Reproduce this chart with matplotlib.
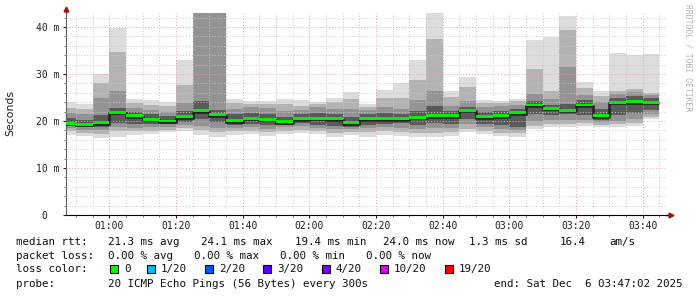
import matplotlib
matplotlib.use("Agg")
import matplotlib.pyplot as plt
from matplotlib.patches import Rectangle
from matplotlib.transforms import ScaledTranslation
import numpy as np

# %%
# smokeping style chart, 5 minute steps starting 00:45 (minutes after midnight)
step_start = 45
step = 5

# 20 pings per step, summarised as nested percentile pairs (ms)
ping_min = [17.0, 16.8, 16.4, 16.7, 17.0, 17.2, 17.6, 17.9, 17.0, 16.7, 17.0, 17.2,
            16.9, 17.2, 17.4, 17.2, 16.7, 17.0, 16.7, 17.0, 16.9, 16.7, 16.7, 16.9,
            17.6, 17.2, 16.8, 16.7, 18.3, 18.8, 18.8, 19.0, 18.7, 18.7, 19.0, 20.4]
p_lo2 = [17.8, 17.5, 17.2, 17.8, 17.8, 17.9, 18.2, 18.5, 18.0, 17.6, 17.8, 17.9,
         17.6, 17.9, 18.0, 17.9, 17.5, 17.7, 17.6, 17.8, 17.6, 17.4, 17.5, 17.6,
         18.4, 17.9, 17.5, 17.4, 19.0, 19.4, 19.4, 19.6, 19.2, 19.3, 19.6, 20.9]
p_lo3 = [18.5, 18.2, 18.1, 18.7, 18.6, 18.7, 18.8, 19.2, 19.0, 18.6, 18.6, 18.7,
         18.4, 18.7, 18.9, 18.6, 18.3, 18.3, 18.5, 18.7, 18.5, 18.3, 18.5, 18.5,
         19.3, 18.7, 18.3, 18.1, 20.0, 20.2, 20.3, 20.3, 19.7, 20.0, 20.4, 21.5]
p_lo4 = [18.9, 18.7, 18.8, 19.6, 19.4, 19.4, 19.3, 19.7, 20.4, 19.8, 19.1, 19.4,
         19.1, 19.1, 19.5, 19.2, 19.0, 18.8, 19.2, 19.4, 19.6, 19.2, 19.6, 19.4,
         20.4, 19.4, 19.1, 18.8, 21.4, 21.2, 21.4, 21.3, 20.2, 21.2, 21.8, 22.4]
median = [19.5, 19.3, 19.6, 21.9, 21.1, 20.4, 20.0, 20.9, 22.2, 21.3, 20.1, 20.6,
          20.4, 19.8, 20.5, 20.6, 20.5, 19.6, 20.5, 20.5, 20.5, 20.8, 21.1, 21.1,
          22.3, 20.9, 21.1, 21.8, 23.4, 22.7, 22.3, 23.4, 21.1, 24.0, 24.1, 24.0]
p_hi4 = [20.6, 20.3, 21.3, 22.8, 22.0, 21.4, 21.0, 22.2, 24.3, 22.4, 21.4, 21.8,
         21.6, 20.8, 21.4, 21.8, 21.6, 20.8, 21.5, 21.7, 21.5, 22.2, 23.2, 22.2,
         23.0, 22.0, 22.1, 22.6, 24.2, 23.5, 23.7, 24.4, 22.6, 24.8, 25.4, 25.0]
p_hi3 = [21.8, 21.5, 24.8, 26.4, 22.8, 22.4, 22.0, 23.8, 45.0, 45.0, 22.6, 23.0,
         22.8, 22.2, 22.4, 23.0, 22.6, 22.6, 22.4, 23.0, 22.6, 24.5, 26.5, 23.2,
         24.2, 23.0, 23.2, 23.4, 25.8, 24.6, 31.6, 25.6, 24.0, 25.8, 26.2, 25.6]
p_hi2 = [22.8, 22.6, 28.0, 34.6, 23.8, 23.5, 23.2, 27.7, 45.0, 45.0, 23.8, 23.6,
         23.6, 23.6, 23.2, 23.6, 24.0, 24.6, 23.0, 24.8, 24.8, 28.8, 37.5, 25.2,
         27.2, 23.8, 23.8, 24.2, 31.1, 26.5, 39.4, 27.0, 25.4, 26.4, 26.8, 26.0]
ping_max = [24.0, 23.6, 30.0, 39.9, 24.7, 24.5, 24.0, 33.0, 45.0, 45.0, 24.7, 24.3,
            24.3, 24.7, 24.5, 24.1, 25.0, 26.1, 23.6, 26.6, 28.2, 33.0, 45.0, 26.4,
            29.3, 24.5, 24.3, 24.7, 37.2, 37.9, 42.3, 28.4, 26.4, 34.5, 34.0, 34.3]

x_ticks = [60, 80, 100, 120, 140, 160, 180, 200, 220]
x_labels = ["01:00", "01:20", "01:40", "02:00", "02:20", "02:40", "03:00", "03:20", "03:40"]
y_ticks = [0, 10, 20, 30, 40]
y_labels = ["0", "10 m", "20 m", "30 m", "40 m"]

loss_labels = ["0", "1/20", "2/20", "3/20", "4/20", "10/20", "19/20"]
loss_colors = ["#00ff00", "#00b8ff", "#0059ff", "#5e00ff", "#7e00ff", "#dd00ff", "#ff0000"]

t0, t1 = 47.03, 227.03   # 00:47:02 .. 03:47:02

# %%
W, H = 697, 297
fig = plt.figure(figsize=(W / 100, H / 100), dpi=100)
fig.patch.set_facecolor("white")
ax = fig.add_axes([66 / W, (H - 215) / H, 600 / W, 202 / H])

n = len(median)
edges = step_start + step * np.arange(n + 1)
left = edges[:-1]

layers = [(ping_min, ping_max, "#dcdcdc"),
          (p_lo2, p_hi2, "#b3b3b3"),
          (p_lo3, p_hi3, "#939393"),
          (p_lo4, p_hi4, "#5a5a5a")]
for lo, hi, col in layers:
    lo = np.array(lo)
    hi = np.array(hi)
    ax.bar(left, hi - lo, bottom=lo, width=step, align="edge", color=col,
           linewidth=0, zorder=1)

med = np.array(median)
ax.stairs(med - 0.2, edges, baseline=None, color="#202020", lw=1.8, zorder=3)
ax.bar(left, 0.62, bottom=med - 0.3, width=step, align="edge", color="#00f000",
       linewidth=0, zorder=4)

ax.set_xlim(t0, t1)
ax.set_ylim(0, 43)

ax.set_xticks(x_ticks)
ax.set_xticklabels(x_labels)
ax.set_xticks(np.arange(50, 227, 5), minor=True)
ax.set_yticks(y_ticks)
ax.set_yticklabels(y_labels)
ax.set_yticks(np.arange(2, 43, 2), minor=True)

ax.set_axisbelow(False)
ax.grid(which="minor", color="#c8c8c8", ls=(0, (1, 2)), lw=0.7)
ax.grid(which="major", color="#e6a3a3", ls=(0, (1, 2)), lw=0.7)

mono = "DejaVu Sans Mono"
ax.tick_params(axis="both", which="major", length=2.5, width=0.8, labelsize=7,
               pad=2, colors="#202020")
ax.tick_params(axis="both", which="minor", length=1.2, width=0.6, colors="#606060")
for lbl in ax.get_xticklabels() + ax.get_yticklabels():
    lbl.set_family(mono)
# the bare "0" sits under the digit column of the other labels
zero = ax.get_yticklabels()[0]
zero.set_transform(zero.get_transform() + ScaledTranslation(-12 / 100, 0, fig.dpi_scale_trans))

for s in ["top", "right"]:
    ax.spines[s].set_visible(False)
ax.spines["left"].set_color("#606060")
ax.spines["bottom"].set_color("#000000")

# axis arrows
ax.plot([0, 0], [1, 1.02], color="#606060", lw=1, transform=ax.transAxes, clip_on=False)
ax.plot([0], [1.02], marker="^", ms=3.5, color="#a01010", transform=ax.transAxes, clip_on=False)
ax.plot([1, 1.008], [0, 0], color="#000000", lw=1, transform=ax.transAxes, clip_on=False)
ax.plot([1.008], [0], marker=">", ms=3.5, color="#a01010", transform=ax.transAxes, clip_on=False)

fig.text(10 / W, 1 - 113 / H, "Seconds", rotation=90, ha="center", va="center",
         fontsize=7.8, family="DejaVu Sans", color="#202020")
fig.text(688 / W, 1 - 4 / H, "RRDTOOL / TOBI OETIKER", rotation=270, ha="center",
         va="top", fontsize=5.8, family=mono, color="#b4b4b4")

# %%
# legend lines below the graph
def put(x, y, s, **kw):
    fig.text(x / W, 1 - y / H, s, fontsize=7.8, family=mono, va="center",
             color="#101010", **kw)

y1, y2, y3, y4 = 242, 256, 269, 284
put(16, y1, "median rtt:")
for x, s in [(108, "21.3 ms avg"), (201, "24.1 ms max"), (295, "19.4 ms min"),
             (383, "24.0 ms now"), (469, "1.3 ms sd"), (560, "16.4"), (609, "am/s")]:
    put(x, y1, s)

put(16, y2, "packet loss:")
for x, s in [(108, "0.00 % avg"), (194, "0.00 % max"), (280, "0.00 % min"),
             (366, "0.00 % now")]:
    put(x, y2, s)

put(16, y3, "loss color:")
sw_x = [110, 147, 205, 263, 322, 380, 445]
for x, lab, col in zip(sw_x, loss_labels, loss_colors):
    fig.add_artist(Rectangle((x / W, 1 - (y3 + 4) / H), 8 / W, 8 / H,
                             transform=fig.transFigure, facecolor=col,
                             edgecolor="black", lw=0.8))
    put(x + 14, y3, lab)

put(16, y4, "probe:")
put(108, y4, "20 ICMP Echo Pings (56 Bytes) every 300s")
put(682, y4, "end: Sat Dec  6 03:47:02 2025", ha="right")

fig.savefig("out.png", dpi=100)
